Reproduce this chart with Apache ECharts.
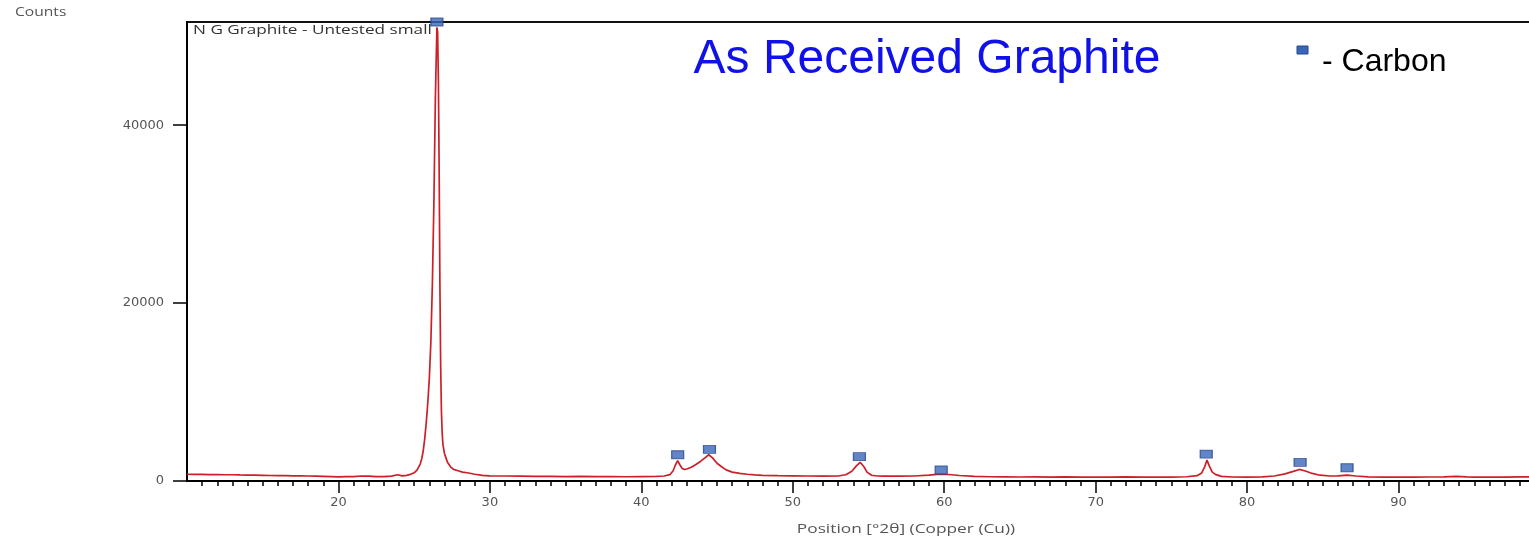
<!DOCTYPE html>
<html>
<head>
<meta charset="utf-8">
<title>As Received Graphite - XRD</title>
<script src="https://cdn.jsdelivr.net/npm/echarts@6/dist/echarts.min.js"></script>
<style>
  html, body { margin: 0; padding: 0; background: #fff; }
  #chart { width: 1529px; height: 542px; }
</style>
</head>
<body>
<div id="chart"></div>
<script>
// Diffraction scan: position in degrees 2-theta and measured counts
const twoTheta = [
  10, 10.5, 11, 11.5, 12, 12.5, 13, 13.5, 14, 14.5, 15, 15.5, 16, 16.5, 17, 17.5, 18, 18.5, 19, 19.5,
  20, 20.5, 21, 21.5, 22, 22.5, 23, 23.5, 23.9, 24.2, 24.5, 24.8, 25.0, 25.2, 25.4, 25.5, 25.6, 25.7,
  25.8, 25.9, 26.0, 26.1, 26.2, 26.3, 26.4, 26.5, 26.55, 26.6, 26.65, 26.7, 26.75, 26.8, 26.85, 26.9,
  27.0, 27.1, 27.2, 27.4, 27.6, 27.9, 28.2, 28.6, 29.0, 29.5, 30, 31, 32, 33, 34, 35, 36, 37, 38, 39,
  40, 41, 41.5, 41.9, 42.1, 42.25, 42.4, 42.55, 42.7, 42.85, 43.0, 43.3, 43.6, 43.9, 44.2, 44.45, 44.7,
  45.0, 45.3, 45.6, 46.0, 46.5, 47, 47.5, 48, 49, 50, 51, 52, 53, 53.5, 53.9, 54.2, 54.45, 54.7, 54.9,
  55.2, 55.6, 56, 57, 58, 59, 59.5, 60, 60.5, 61, 62, 63, 64, 65, 66, 67, 68, 69, 70, 71, 72, 73, 74,
  75, 76, 76.7, 77.0, 77.2, 77.35, 77.5, 77.7, 77.9, 78.3, 79, 80, 81, 81.8, 82.5, 83.0, 83.45, 83.9,
  84.3, 84.8, 85.5, 86, 86.6, 87.2, 88, 89, 90, 91, 92, 93, 93.8, 94.5, 95, 96, 97, 98, 99, 100
];
const counts = [
  760, 745, 740, 725, 720, 700, 705, 680, 660, 655, 640, 620, 600, 610, 580, 570, 560, 540, 520, 500,
  470, 490, 500, 560, 540, 500, 490, 540, 700, 580, 640, 780, 920, 1250, 1900, 2500, 3400, 4800,
  6600, 8800, 11500, 15500, 22000, 31000, 43000, 51000, 50500, 45000, 35000, 22000, 13000, 7800, 5400, 4100,
  3100, 2600, 2100, 1600, 1300, 1150, 1000, 900, 760, 640, 580, 560, 540, 520, 530, 500, 510, 490, 500, 480,
  500, 520, 560, 720, 1150, 1800, 2300, 1800, 1400, 1300, 1350, 1550, 1850, 2200, 2600, 2950, 2600,
  2000, 1600, 1250, 1000, 850, 760, 680, 640, 600, 580, 560, 540, 560, 700, 1100, 1700, 2100, 1600, 1000,
  650, 560, 540, 540, 560, 650, 740, 760, 700, 620, 520, 480, 470, 450, 470, 440, 460, 430, 450, 440, 460, 430, 450,
  440, 480, 600, 900, 1600, 2350, 1700, 1000, 750, 520, 450, 440, 470, 560, 800, 1050, 1300, 1100,
  850, 650, 560, 580, 660, 560, 470, 440, 430, 440, 450, 470, 520, 470, 440, 450, 440, 460, 450, 440
];

// Reference peak positions for carbon (graphite) and the height of each marker
const carbonPos = [26.5, 42.4, 44.5, 54.4, 59.8, 77.3, 83.5, 86.6];
const carbonMarker = [51600, 2950, 3560, 2730, 1240, 3030, 2100, 1490];

// Axis ticks
const xTickValues = [20, 30, 40, 50, 60, 70, 80, 90];
const yTickValues = [0, 20000, 40000];

const scanData = twoTheta.map((t, i) => [t, counts[i]]);
const carbonData = carbonPos.map((t, i) => [t, carbonMarker[i]]);

const chart = echarts.init(document.getElementById('chart'), null, { renderer: 'canvas' });

chart.setOption({
  backgroundColor: '#ffffff',
  animation: false,
  grid: {
    left: 187, top: 22, width: 1363, height: 459,
    outerBoundsMode: 'none',
    show: true, borderColor: '#111', borderWidth: 2, backgroundColor: 'transparent'
  },
  xAxis: {
    type: 'value', min: 10, max: 100, interval: 10,
    axisLine: { show: true, onZero: false, lineStyle: { color: '#000', width: 2 } },
    axisTick: { show: true, length: 12, customValues: xTickValues, lineStyle: { color: '#000', width: 1.5 } },
    minorTick: { show: true, splitNumber: 10, length: 5, lineStyle: { color: '#000', width: 1.5 } },
    axisLabel: { customValues: xTickValues, margin: 15, color: '#555', fontFamily: 'DejaVu Sans', fontSize: 13 },
    splitLine: { show: false }
  },
  yAxis: {
    type: 'value', min: 0, max: 51600, interval: 20000,
    axisLine: { show: true, lineStyle: { color: '#000', width: 2 } },
    axisTick: { show: true, length: 14, customValues: yTickValues, lineStyle: { color: '#000', width: 1.5 } },
    axisLabel: {
      customValues: yTickValues, margin: 23, color: '#555', fontFamily: 'DejaVu Sans', fontSize: 13,
      formatter: v => String(v)
    },
    splitLine: { show: false }
  },
  series: [
    {
      name: 'N G Graphite - Untested small',
      type: 'line',
      data: scanData,
      showSymbol: false,
      smooth: false,
      lineStyle: { color: '#cc1f28', width: 1.7 },
      z: 2
    },
    {
      name: 'Carbon',
      type: 'scatter',
      data: carbonData,
      symbol: 'rect',
      symbolSize: [12, 8],
      clip: false,
      itemStyle: { color: '#3a66b8', borderColor: '#24468a', borderWidth: 1 },
      z: 5
    }
  ],
  graphic: [
    {
      type: 'text', x: 15, y: 13, scaleX: 1.3,
      style: { text: 'Counts', fill: '#555', font: '12px "Open Sans"', textAlign: 'left', textVerticalAlign: 'middle' }
    },
    {
      type: 'text', x: 193, y: 30, scaleX: 1.32,
      style: { text: 'N G Graphite - Untested small', fill: '#333', font: '13px "Open Sans"', textAlign: 'left', textVerticalAlign: 'middle' }
    },
    {
      type: 'text', x: 906, y: 529, scaleX: 1.33,
      style: { text: 'Position [°2θ] (Copper (Cu))', fill: '#555', font: '13px "Open Sans"', textAlign: 'center', textVerticalAlign: 'middle' }
    },
    {
      type: 'text', x: 927, y: 60,
      style: { text: 'As Received Graphite', fill: '#1010e8', font: '48px "Liberation Sans"', textAlign: 'center', textVerticalAlign: 'middle' }
    },
    {
      type: 'rect', shape: { x: 1297, y: 46, width: 11, height: 8 },
      style: { fill: '#3a66b8', stroke: '#24468a', lineWidth: 1 }
    },
    {
      type: 'text', x: 1322, y: 62,
      style: { text: '- Carbon', fill: '#000', font: '32px "Liberation Sans"', textAlign: 'left', textVerticalAlign: 'middle' }
    }
  ]
});
</script>
</body>
</html>
